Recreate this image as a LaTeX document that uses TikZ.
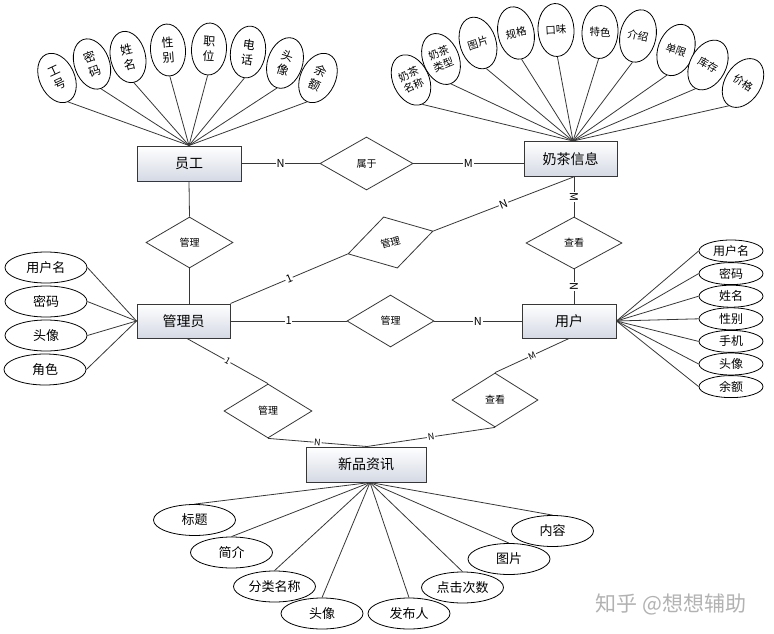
\documentclass[tikz,border=0pt]{standalone}
\usepackage{fontspec}
\setmainfont{Noto Sans CJK SC}
\usetikzlibrary{shapes.geometric,calc}
\definecolor{boxgray}{RGB}{212,217,228}
\definecolor{linegray}{RGB}{55,55,55}
\begin{document}
\begin{tikzpicture}[x=1pt,y=-1pt,
  entity/.style={draw=linegray,line width=1pt,top color=white,bottom color=boxgray,inner sep=0pt,font=\fontsize{14}{16}\selectfont},
  rel/.style={diamond,draw=linegray,line width=0.8pt,fill=white,inner sep=0pt,font=\fontsize{10}{12}\selectfont},
  attr/.style={ellipse,draw=black,line width=0.8pt,fill=white,inner sep=0pt,align=center},
  tattr/.style={attr,minimum width=35pt,minimum height=52pt,font=\fontsize{12}{15}\selectfont},
  nattr/.style={attr,minimum width=36pt,minimum height=53pt,font=\fontsize{10.5}{12.5}\selectfont},
  sattr/.style={attr,minimum width=64pt,minimum height=22pt,font=\fontsize{12}{14}\selectfont},
  lattr/.style={attr,minimum width=82pt,minimum height=31pt,font=\fontsize{13}{15}\selectfont},
  conn/.style={draw=linegray,line width=0.8pt},
  lbl/.style={fill=white,inner sep=0.8pt,midway,sloped,font=\fontsize{11}{12}\selectfont},
]
\useasboundingbox (0,0) rectangle (774,634);

% entities
\node[entity,minimum width=104pt,minimum height=35pt] (yg) at (189,163.5) {员工};
\node[entity,minimum width=93pt,minimum height=35pt] (nc) at (570.5,159) {奶茶信息};
\node[entity,minimum width=93pt,minimum height=34pt] (gly) at (183.5,321) {管理员};
\node[entity,minimum width=94pt,minimum height=34pt] (yh) at (569,321) {用户};
\node[entity,minimum width=120pt,minimum height=35pt] (xp) at (366,464.5) {新品资讯};

% relationships
\node[rel,minimum width=93pt,minimum height=53pt] (sy) at (366.5,163.5) {属于};
\node[rel,minimum width=87pt,minimum height=51pt] (gl1) at (189.5,242.5) {管理};
\node[rel,rotate=15,minimum width=88pt,minimum height=53pt] (glR) at (390.5,242.5) {管理};
\node[rel,minimum width=96pt,minimum height=52pt] (ck1) at (574,243) {查看};
\node[rel,minimum width=87pt,minimum height=52pt] (gl2) at (390.5,321) {管理};
\node[rel,minimum width=88pt,minimum height=54pt] (gl3) at (268,411) {管理};
\node[rel,minimum width=86pt,minimum height=54pt] (ck2) at (495,400) {查看};

% relationship connectors
\draw[conn] (yg.east) -- node[lbl]{N} (sy.west);
\draw[conn] (sy.east) -- node[lbl]{M} (sy.east -| nc.west);
\draw[conn] (yg.south) -- (gl1.north);
\draw[conn] (gl1.south) -- (gl1.south |- gly.north);
\draw[conn] (gly.north east) -- node[lbl]{1} (glR.west);
\draw[conn] (glR.east) -- node[lbl]{N} ($(nc.south)+(3,0)$);
\draw[conn] (ck1.north |- nc.south) -- node[lbl]{M} (ck1.north);
\draw[conn] (ck1.south) -- node[lbl]{N} (ck1.south |- yh.north);
\draw[conn] (gly.east) -- node[lbl]{1} (gl2.west);
\draw[conn] (gl2.east) -- node[lbl]{N} (yh.west);
\coordinate (glyb) at ($(gly.south)+(3.5,0)$);
\draw[conn] (glyb) -- node[lbl,font=\fontsize{9}{10}\selectfont]{1} (gl3.north);
\coordinate (xpt) at ($(xp.north)+(1,0)$);
\draw[conn] (gl3.south) -- node[lbl,font=\fontsize{9}{10}\selectfont]{N} (xpt);
\draw[conn] (yh.south) -- node[lbl,font=\fontsize{9}{10}\selectfont]{M} (ck2.north);
\draw[conn] (ck2.south) -- node[lbl,font=\fontsize{9}{10}\selectfont]{N} (xpt);

% attributes of 员工
\node[tattr,rotate=25] (a1) at (57,78) {工\\号};
\node[tattr,rotate=20] (a2) at (92,64) {密\\码};
\node[tattr,rotate=13] (a3) at (128,57) {姓\\名};
\node[tattr,rotate=4] (a4) at (168,50) {性\\别};
\node[tattr,rotate=-3] (a5) at (209,49) {职\\位};
\node[tattr,rotate=-8] (a6) at (248,52) {电\\话};
\node[tattr,rotate=-18] (a7) at (285,63) {头\\像};
\node[tattr,rotate=-25] (a8) at (318,78) {余\\额};
\foreach \i in {1,...,8} \draw[conn] (a\i.south) -- (yg.north);

% attributes of 奶茶信息
\coordinate (nct) at ($(nc.north)+(2.5,0)$);
\node[nattr,rotate=25] (b1) at (411,80) {奶茶\\名称};
\node[nattr,rotate=22] (b2) at (441,59) {奶茶\\类型};
\node[nattr,rotate=18] (b3) at (478,43) {图片};
\node[nattr,rotate=12] (b4) at (516,33) {规格};
\node[nattr,rotate=3] (b5) at (556,30) {口味};
\node[nattr,rotate=-3] (b6) at (600,32) {特色};
\node[nattr,rotate=-12] (b7) at (638,36) {介绍};
\node[nattr,rotate=-20] (b8) at (676,50) {单限};
\node[nattr,rotate=-28] (b9) at (708,65) {库存};
\node[nattr,rotate=-32] (b10) at (743,83) {价格};
\foreach \i in {1,...,10} \draw[conn] (b\i.south) -- (nct);

% attributes of 管理员
\node[lattr] (c1) at (46,267.5) {用户名};
\node[lattr] (c2) at (46,301.5) {密码};
\node[lattr] (c3) at (46,335.5) {头像};
\node[lattr] (c4) at (45,369.5) {角色};
\foreach \i in {1,...,4} \draw[conn] (c\i.east) -- (gly.west);

% attributes of 用户
\node[sattr] (d1) at (731,251) {用户名};
\node[sattr] (d2) at (731,273.6) {密码};
\node[sattr] (d3) at (731,296.2) {姓名};
\node[sattr] (d4) at (731,318.8) {性别};
\node[sattr] (d5) at (731,341.4) {手机};
\node[sattr] (d6) at (731,364) {头像};
\node[sattr] (d7) at (731,386.6) {余额};
\foreach \i in {1,...,7} \draw[conn] (d\i.west) -- (yh.east);

% attributes of 新品资讯
\coordinate (xpb) at ($(xp.south)+(4,0)$);
\node[lattr] (e1) at (194.5,520) {标题};
\node[lattr] (e2) at (231.5,552.5) {简介};
\node[lattr] (e3) at (274.5,586.5) {分类名称};
\node[lattr] (e4) at (322,613.5) {头像};
\node[lattr] (e5) at (409,613.5) {发布人};
\node[lattr] (e6) at (462.5,587.5) {点击次数};
\node[lattr] (e7) at (509,559) {图片};
\node[lattr] (e8) at (552.5,531) {内容};
\foreach \i in {1,...,8} \draw[conn] (e\i.north) -- (xpb);

% watermark
\node[text=black!30,font=\fontsize{21}{24}\selectfont,inner sep=0pt] (wm) at (671,604) {知乎 @想想辅助};
\end{tikzpicture}
\end{document}
